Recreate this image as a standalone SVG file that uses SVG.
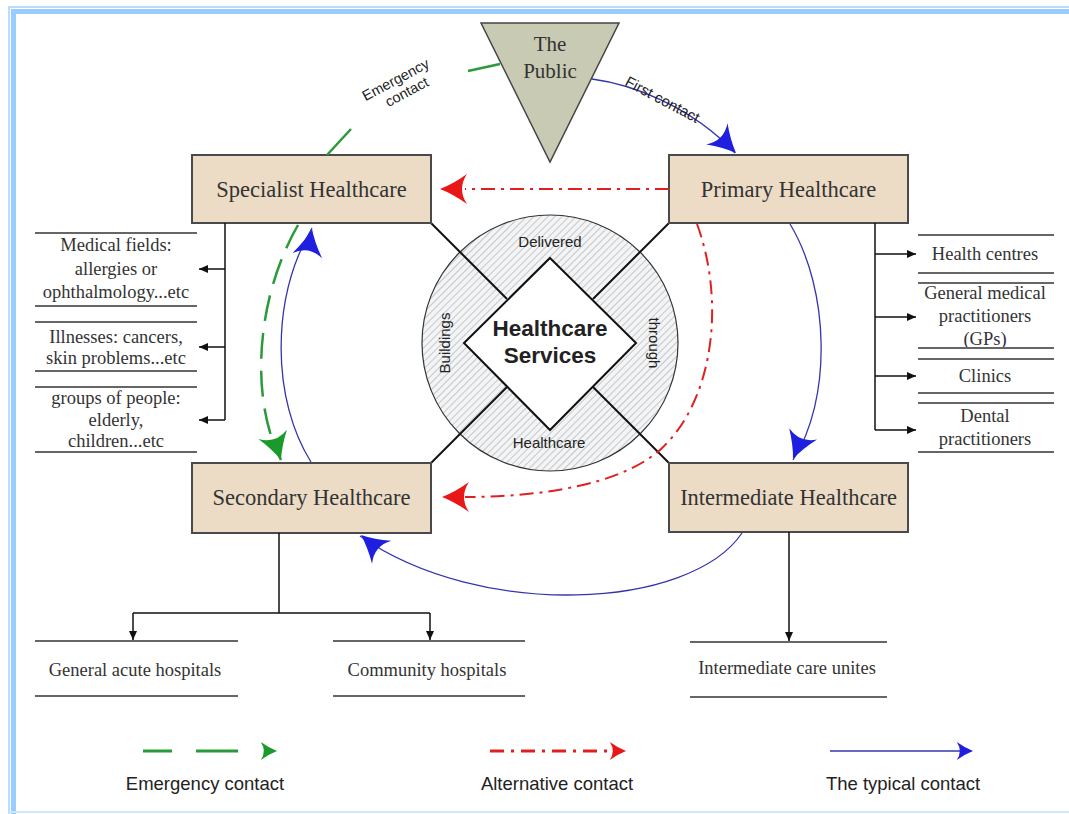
<svg xmlns="http://www.w3.org/2000/svg" xmlns:xlink="http://www.w3.org/1999/xlink" width="1069" height="814" viewBox="0 0 1069 814">
<style>
.box{fill:#ecdcc6;stroke:#4a4a4a;stroke-width:2}
.bl{font-family:"Liberation Serif",serif;font-size:22.5px;fill:#333;text-anchor:middle}
.tp{font-family:"Liberation Serif",serif;font-size:21px;fill:#333;text-anchor:middle}
.lt{font-family:"Liberation Serif",serif;font-size:18.5px;fill:#333;text-anchor:middle}
.sep{stroke:#666;stroke-width:2}
.tree{stroke:#111;stroke-width:1.5;fill:none}
.sans{font-family:"Liberation Sans",sans-serif;fill:#222;text-anchor:middle}
.blue{stroke:#3434b0;stroke-width:1.3;fill:none}
.green{stroke:#2a9a3a;stroke-width:2.5;fill:none;stroke-dasharray:26,12}
.red{stroke:#e02020;stroke-width:2;fill:none;stroke-dasharray:14,6,3,6}
</style>
<defs>
<pattern id="hatch" width="5" height="5" patternUnits="userSpaceOnUse" patternTransform="rotate(45)">
<rect width="5" height="5" fill="#f2f4f6"/>
<line x1="0" y1="0" x2="0" y2="5" stroke="#9a9a9a" stroke-width="1"/>
</pattern>
<path id="dart" d="M0,0 Q-13,-5 -27,-15 Q-17,0 -27,15 Q-13,5 0,0 Z"/>
<marker id="ah" markerWidth="10" markerHeight="10" refX="9" refY="5" orient="auto" markerUnits="userSpaceOnUse">
<path d="M0,1 L9,5 L0,9 Z" fill="#111"/>
</marker>
</defs>
<rect width="1069" height="814" fill="#fff"/>
<g id="frame">
<path d="M9,814 V7 H1069" stroke="#b9ddff" stroke-width="2" fill="none"/>
<path d="M13.5,814 V11.5 H1069" stroke="#99ccff" stroke-width="5" fill="none"/>
<path d="M9,812 H1069" stroke="#cfe6ff" stroke-width="2" fill="none"/>
</g>

<g id="center">
<circle cx="550" cy="343" r="128" fill="url(#hatch)" stroke="#333" stroke-width="1.2"/>
<line x1="431" y1="223" x2="507" y2="299" stroke="#111" stroke-width="2"/>
<line x1="669" y1="223" x2="593" y2="299" stroke="#111" stroke-width="2"/>
<line x1="431" y1="463" x2="507" y2="387" stroke="#111" stroke-width="2"/>
<line x1="669" y1="463" x2="593" y2="387" stroke="#111" stroke-width="2"/>
<polygon points="550,258 636,343 550,430 464,343" fill="#fff" stroke="#111" stroke-width="2"/>
<text class="sans" x="550" y="336" font-size="22.5" font-weight="bold">Healthcare</text>
<text class="sans" x="550" y="363" font-size="22.5" font-weight="bold">Services</text>
<text class="sans" x="550" y="247" font-size="15">Delivered</text>
<text class="sans" x="549" y="448" font-size="15">Healthcare</text>
<text class="sans" font-size="15" transform="translate(450,343) rotate(-90)">Buildings</text>
<text class="sans" font-size="15" transform="translate(649,343) rotate(90)">through</text>
</g>

<g id="public">
<polygon points="481,23 619,23 550,162" fill="#c9cab4" stroke="#444" stroke-width="1.5"/>
<text class="tp" x="550" y="51">The</text>
<text class="tp" x="550" y="78">Public</text>
</g>

<g id="specialist">
<rect class="box" x="192" y="155" width="239" height="68"/>
<text class="bl" x="311.5" y="197">Specialist Healthcare</text>
</g>
<g id="primary">
<rect class="box" x="669" y="155" width="239" height="68"/>
<text class="bl" x="788.5" y="197">Primary Healthcare</text>
</g>
<g id="secondary">
<rect class="box" x="192" y="463" width="239" height="70"/>
<text class="bl" x="311.5" y="505">Secondary Healthcare</text>
</g>
<g id="intermediate">
<rect class="box" x="669" y="463" width="239" height="69"/>
<text class="bl" x="788.5" y="505">Intermediate Healthcare</text>
</g>

<g id="specialist-list">
<line class="sep" x1="35" y1="233" x2="197" y2="233"/>
<text class="lt" x="116" y="251">Medical fields:</text>
<text class="lt" x="116" y="275">allergies or</text>
<text class="lt" x="116" y="298">ophthalmology...etc</text>
<line class="sep" x1="35" y1="306" x2="197" y2="306"/>
<line class="sep" x1="35" y1="322" x2="197" y2="322"/>
<text class="lt" x="116" y="343">Illnesses: cancers,</text>
<text class="lt" x="116" y="364">skin problems...etc</text>
<line class="sep" x1="35" y1="371" x2="197" y2="371"/>
<line class="sep" x1="35" y1="387" x2="197" y2="387"/>
<text class="lt" x="116" y="404">groups of people:</text>
<text class="lt" x="116" y="426">elderly,</text>
<text class="lt" x="116" y="447">children...etc</text>
<line class="sep" x1="35" y1="452" x2="197" y2="452"/>
</g>

<g id="primary-list">
<line class="sep" x1="918" y1="235" x2="1054" y2="235"/>
<text class="lt" x="985" y="260">Health centres</text>
<line class="sep" x1="918" y1="273" x2="1054" y2="273"/>
<line class="sep" x1="918" y1="283" x2="1054" y2="283"/>
<text class="lt" x="985" y="299">General medical</text>
<text class="lt" x="985" y="322">practitioners</text>
<text class="lt" x="985" y="345">(GPs)</text>
<line class="sep" x1="918" y1="348" x2="1054" y2="348"/>
<line class="sep" x1="918" y1="359" x2="1054" y2="359"/>
<text class="lt" x="985" y="382">Clinics</text>
<line class="sep" x1="918" y1="393" x2="1054" y2="393"/>
<line class="sep" x1="918" y1="403" x2="1054" y2="403"/>
<text class="lt" x="985" y="422">Dental</text>
<text class="lt" x="985" y="445">practitioners</text>
<line class="sep" x1="918" y1="452" x2="1054" y2="452"/>
</g>

<g id="secondary-list">
<line class="sep" x1="35" y1="641" x2="238" y2="641"/>
<text class="lt" x="135" y="676">General acute hospitals</text>
<line class="sep" x1="35" y1="696" x2="238" y2="696"/>
<line class="sep" x1="333" y1="641" x2="525" y2="641"/>
<text class="lt" x="427" y="676">Community hospitals</text>
<line class="sep" x1="333" y1="696" x2="525" y2="696"/>
</g>

<g id="intermediate-list">
<line class="sep" x1="690" y1="642" x2="887" y2="642"/>
<text class="lt" x="787" y="674">Intermediate care unites</text>
<line class="sep" x1="690" y1="697" x2="887" y2="697"/>
</g>

<g id="connectors">
<path class="tree" d="M225,223 V420"/>
<path class="tree" d="M225,269 H199" marker-end="url(#ah)"/>
<path class="tree" d="M225,347 H199" marker-end="url(#ah)"/>
<path class="tree" d="M225,420 H199" marker-end="url(#ah)"/>
<path class="tree" d="M875,223 V430"/>
<path class="tree" d="M875,254 H916" marker-end="url(#ah)"/>
<path class="tree" d="M875,317 H916" marker-end="url(#ah)"/>
<path class="tree" d="M875,376 H916" marker-end="url(#ah)"/>
<path class="tree" d="M875,430 H916" marker-end="url(#ah)"/>
<path class="tree" d="M279,533 V613 M133,613 H430"/>
<path class="tree" d="M133,613 V640" marker-end="url(#ah)"/>
<path class="tree" d="M430,613 V640" marker-end="url(#ah)"/>
<path class="tree" d="M789,532 V641" marker-end="url(#ah)"/>

<path class="blue" d="M592,79 C630,84 690,105 735,153"/>
<path class="blue" d="M790,224 C830,290 832,400 793,460"/>
<path class="blue" d="M311,462 C272,400 270,300 312,228"/>
<path class="blue" d="M742,533 C690,610 480,620 360,536"/>
<path d="M468,71 L500,64" stroke="#2a9a3a" stroke-width="2.5"/>
<path d="M351,129 L327,155" stroke="#2a9a3a" stroke-width="2.5"/>
<path class="green" d="M298,225 C255,300 250,400 281,460"/>
<path class="red" d="M669,189 L465,189"/>
<path class="red" d="M697,224 C725,300 715,400 660,450 C620,485 540,497 465,497"/>

<use xlink:href="#dart" fill="#1f1fe0" transform="translate(736,153) rotate(45)"/>
<use xlink:href="#dart" fill="#1f1fe0" transform="translate(793,459) rotate(112)"/>
<use xlink:href="#dart" fill="#1f1fe0" transform="translate(312,229) rotate(-80)"/>
<use xlink:href="#dart" fill="#1f1fe0" transform="translate(361,535) rotate(-140)"/>
<use xlink:href="#dart" fill="#1a9a2a" transform="translate(281,460) rotate(72)"/>
<use xlink:href="#dart" fill="#e81818" transform="translate(440,189) rotate(180)"/>
<use xlink:href="#dart" fill="#e81818" transform="translate(442,497) rotate(180)"/>

<g class="sans" font-size="14.5" transform="translate(398,84) rotate(-28)">
<text x="0" y="0">Emergency</text>
<text x="4" y="16">contact</text>
</g>
<text class="sans" font-size="15" transform="translate(660,104) rotate(28)">First contact</text>
</g>

<g id="legend">
<path d="M143,751 H172 M196,751 H238" stroke="#2a9a3a" stroke-width="3"/>
<use xlink:href="#dart" fill="#1a9a2a" transform="translate(277,751) scale(0.6)"/>
<text class="sans" x="205" y="790" font-size="18.5">Emergency contact</text>
<path d="M490,751 H610" stroke="#e02020" stroke-width="3" stroke-dasharray="14,7,3,7"/>
<use xlink:href="#dart" fill="#e81818" transform="translate(626,751) scale(0.6)"/>
<text class="sans" x="557" y="790" font-size="18.5">Alternative contact</text>
<path d="M830,751 H962" stroke="#3434b0" stroke-width="1.5"/>
<use xlink:href="#dart" fill="#1f1fe0" transform="translate(973,751) scale(0.6)"/>
<text class="sans" x="903" y="790" font-size="18.5">The typical contact</text>
</g>
</svg>
